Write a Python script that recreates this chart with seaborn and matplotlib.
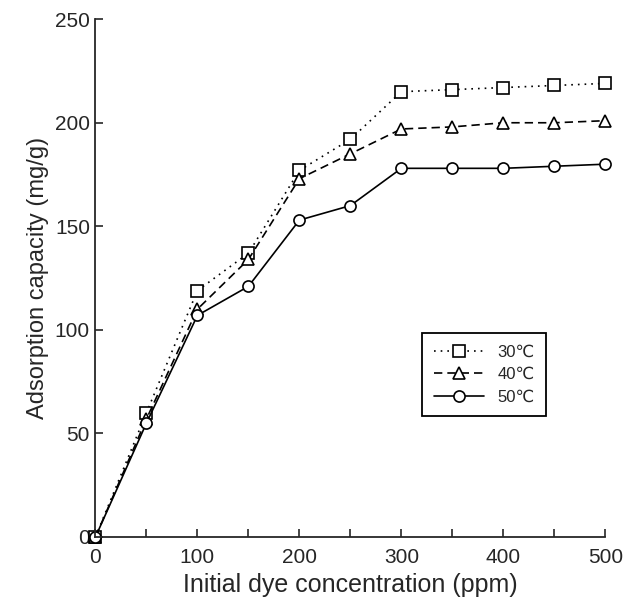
import matplotlib
matplotlib.use("Agg")
import matplotlib.pyplot as plt
import seaborn as sns
import pandas as pd

conc = [0, 50, 100, 150, 200, 250, 300, 350, 400, 450, 500]
q_30 = [0, 60, 119, 137, 177, 192, 215, 216, 217, 218, 219]
q_40 = [0, 57, 110, 134, 173, 185, 197, 198, 200, 200, 201]
q_50 = [0, 55, 107, 121, 153, 160, 178, 178, 178, 179, 180]
labels = ["30℃", "40℃", "50℃"]

rows = []
for lab, vals in zip(labels, [q_30, q_40, q_50]):
    for c, v in zip(conc, vals):
        rows.append({"conc": c, "q": v, "T": lab})
df = pd.DataFrame(rows)

sns.set_style("ticks")
plt.rcParams['font.family'] = ['Liberation Sans', 'DejaVu Sans']

fig = plt.figure(figsize=(6.24, 6.0), dpi=100)
ax = fig.add_axes([0.153, 0.105, 0.817, 0.863])

sns.lineplot(data=df, x="conc", y="q", style="T", style_order=labels,
             markers=["s", "^", "o"], dashes=[(1, 3), (5, 3), ""],
             color="black", linewidth=1.2, markersize=8,
             markerfacecolor="white", markeredgecolor="black", markeredgewidth=1.2,
             ax=ax, legend=True)

ax.set_xlim(0, 500)
ax.set_ylim(0, 250)
ax.set_xticks([0, 100, 200, 300, 400, 500])
ax.set_xticks(range(0, 501, 50), minor=True)
ax.set_yticks([0, 50, 100, 150, 200, 250])
ax.tick_params(axis="both", direction="in", labelsize=15, width=1.2, length=6)
ax.tick_params(axis="x", pad=8)
ax.tick_params(axis="y", pad=4)
ax.tick_params(axis="x", which="minor", direction="in", width=1.2, length=6)
for s in ["top", "right"]:
    ax.spines[s].set_visible(False)
for s in ["left", "bottom"]:
    ax.spines[s].set_linewidth(1.3)
ax.set_xlabel("Initial dye concentration (ppm)", fontsize=18, labelpad=4)
ax.set_ylabel("Adsorption capacity (mg/g)", fontsize=17, labelpad=4)
for ln in ax.lines:
    ln.set_clip_on(False)

h, l = ax.get_legend_handles_labels()
ax.legend(h, l, loc="upper left", bbox_to_anchor=(0.625, 0.41), fontsize=12,
          frameon=True, fancybox=False, edgecolor="black", framealpha=1,
          handlelength=3.0, handletextpad=0.8, labelspacing=0.45, borderpad=0.7, title=None)
ax.get_legend().get_frame().set_linewidth(1.3)

fig.savefig("out.png", dpi=100)
